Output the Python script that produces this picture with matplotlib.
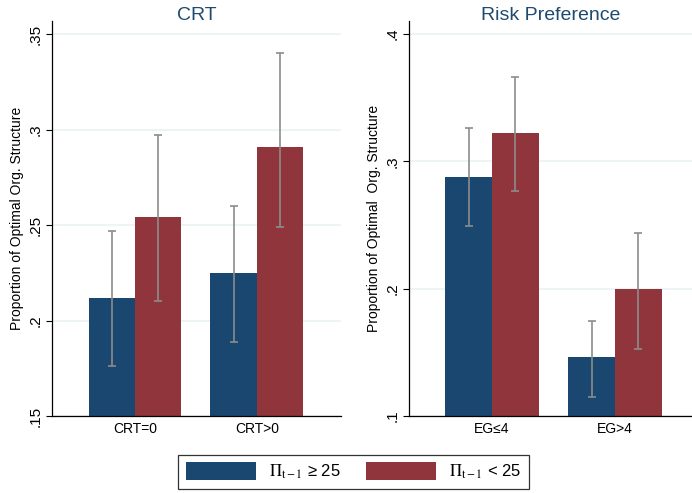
import matplotlib
matplotlib.use("Agg")
import matplotlib.pyplot as plt
import numpy as np
from matplotlib.patches import Patch

plt.rcParams['font.family'] = ['Liberation Sans', 'DejaVu Sans']
plt.rcParams['mathtext.fontset'] = 'stix'

# CRT panel
crt_groups = ['CRT=0', 'CRT>0']
crt_high = [0.212, 0.225]
crt_high_lo = [0.176, 0.189]
crt_high_hi = [0.247, 0.260]
crt_low = [0.254, 0.291]
crt_low_lo = [0.210, 0.249]
crt_low_hi = [0.297, 0.340]

# risk preference panel
risk_groups = ['EG≤4', 'EG>4']
risk_high = [0.288, 0.146]
risk_high_lo = [0.249, 0.115]
risk_high_hi = [0.326, 0.175]
risk_low = [0.322, 0.200]
risk_low_lo = [0.277, 0.153]
risk_low_hi = [0.366, 0.244]

crt_ticks = [0.15, 0.2, 0.25, 0.3, 0.35]
crt_ticklabels = ['.15', '.2', '.25', '.3', '.35']
risk_ticks = [0.1, 0.2, 0.3, 0.4]
risk_ticklabels = ['.1', '.2', '.3', '.4']

blue = '#1a476f'
red = '#90353b'
err_col = '#8c8c8c'
grid_col = '#eaf2f3'
title_col = '#1e4a6e'

fig = plt.figure(figsize=(6.92, 4.93), dpi=100)


def panel(rect, title, groups, hi, hi_lo, hi_hi, lo, lo_lo, lo_hi,
          ticks, ticklabels, ylim, xlim, ylabel):
    ax = fig.add_axes(rect)
    x = np.arange(len(groups))
    w = 0.38
    ax.bar(x - w / 2, hi, w, color=blue, zorder=2)
    ax.bar(x + w / 2, lo, w, color=red, zorder=2)
    for xs, v, l, h in [(x - w / 2, hi, hi_lo, hi_hi), (x + w / 2, lo, lo_lo, lo_hi)]:
        v = np.array(v)
        ax.errorbar(xs, v, yerr=[v - np.array(l), np.array(h) - v], fmt='none',
                    ecolor=err_col, elinewidth=1.2, capsize=3, capthick=1.2, zorder=3)
    ax.set_ylim(*ylim)
    ax.set_xlim(*xlim)
    ax.set_yticks(ticks)
    ax.set_yticklabels(ticklabels, rotation=90, va='center', fontsize=11)
    ax.set_xticks(x)
    ax.set_xticklabels(groups, fontsize=10)
    ax.tick_params(axis='x', length=0, pad=4)
    ax.tick_params(axis='y', length=4, width=0.8, pad=3)
    ax.yaxis.grid(True, color=grid_col, linewidth=1.2, zorder=0)
    ax.set_axisbelow(True)
    ax.spines['top'].set_visible(False)
    ax.spines['right'].set_visible(False)
    ax.spines['left'].set_linewidth(0.9)
    ax.spines['bottom'].set_linewidth(0.9)
    ax.set_ylabel(ylabel, fontsize=10, labelpad=3)
    # title sits just above the plot region, overlapping the top margin
    fig.text(rect[0] + rect[2] / 2, 1 - 16 / 493, title, color=title_col,
             fontsize=14, ha='center', va='center')
    return ax


panel([0.0751, 0.1562, 0.4176, 0.801], 'CRT', crt_groups,
      crt_high, crt_high_lo, crt_high_hi, crt_low, crt_low_lo, crt_low_hi,
      crt_ticks, crt_ticklabels, (0.15, 0.3568), (-0.68, 1.69),
      'Proportion of Optimal Org. Structure')
panel([0.591, 0.1562, 0.409, 0.801], 'Risk Preference', risk_groups,
      risk_high, risk_high_lo, risk_high_hi, risk_low, risk_low_lo, risk_low_hi,
      risk_ticks, risk_ticklabels, (0.1, 0.4102), (-0.675, 1.625),
      'Proportion of Optimal  Org. Structure')

handles = [Patch(facecolor=blue), Patch(facecolor=red)]
labels = [r'$\Pi_{\mathrm{t-1}}$ ≥ 25', r'$\Pi_{\mathrm{t-1}}$ < 25']
leg = fig.legend(handles, labels, loc='center', bbox_to_anchor=(0.511, 0.043),
                 ncol=2, fontsize=12, frameon=True, fancybox=False,
                 edgecolor='black', handlelength=4.2, handleheight=1.3,
                 columnspacing=1.5, borderpad=0.45, handletextpad=0.8)
leg.get_frame().set_linewidth(0.9)

fig.savefig('out.png', dpi=100)
